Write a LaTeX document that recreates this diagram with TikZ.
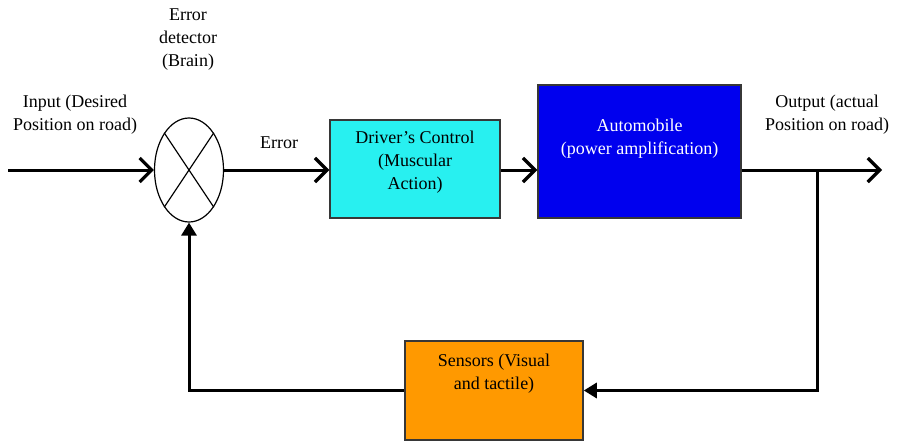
\documentclass[tikz,border=0pt]{standalone}
\usepackage{fontspec}
\setmainfont{Liberation Serif}
\usetikzlibrary{shapes.geometric,arrows.meta}
\definecolor{cyanbox}{RGB}{40,240,240}
\definecolor{bluebox}{RGB}{0,0,238}
\definecolor{orangebox}{RGB}{255,153,0}
\definecolor{edge}{RGB}{55,55,55}
\begin{document}
\begin{tikzpicture}[x=1pt,y=-1pt,
  font=\fontsize{18}{23}\selectfont,
  blk/.style={draw=edge,line width=1.5pt,inner sep=0pt},
  txt/.style={align=center,inner sep=0pt},
  arr/.style={line width=3pt,-{Straight Barb[length=12pt,width=24pt,line width=3.2pt]}},
  fb/.style={line width=3pt,-{Triangle[length=13pt,width=15pt]}},
  ell/.style={draw,ellipse,line width=1.2pt,minimum width=69pt,minimum height=104pt,inner sep=0pt}]
\useasboundingbox (0,0) rectangle (910,442);
% blocks
\node[ell] (sum) at (189,170) {};
\draw[line width=1.2pt] (sum.north west) -- (sum.south east);
\draw[line width=1.2pt] (sum.north east) -- (sum.south west);
\node[blk,fill=cyanbox,minimum width=170pt,minimum height=98pt] (drv) at (415,169) {};
\node[blk,fill=bluebox,minimum width=203pt,minimum height=133pt] (auto) at (639.5,151.5) {};
\node[blk,fill=orangebox,minimum width=178pt,minimum height=99pt] (sens) at (494,390.5) {};
% texts
\node[txt] (tdet) at (188,40) {Error\\detector\\(Brain)};
\node[txt] (tin) at (75,115) {Input (Desired\\Position on road)};
\node[txt] (terr) at (279,143) {Error};
\node[txt] (tdrv) at (415,162) {Driver’s Control\\(Muscular\\Action)};
\node[txt,text=white] (tauto) at (639.5,139) {Automobile\\(power amplification)};
\node[txt] (tout) at (827,115) {Output (actual\\Position on road)};
\node[txt] (tsens) at (494,374) {Sensors (Visual\\and tactile)};
% connectors
\coordinate (in) at (8,170);
\coordinate (out) at (882,170);
\coordinate (br) at (817,170);
\draw[arr] (in) -- (sum.west);
\draw[arr] (sum.east) -- (drv.west |- sum.east);
\draw[arr] (drv.east |- sum.east) -- (auto.west |- sum.east);
\draw[arr] (auto.east |- sum.east) -- (out);
\draw[fb] (br) |- (sens.east);
\draw[fb] (sens.west) -| (sum.south);
\end{tikzpicture}
\end{document}
